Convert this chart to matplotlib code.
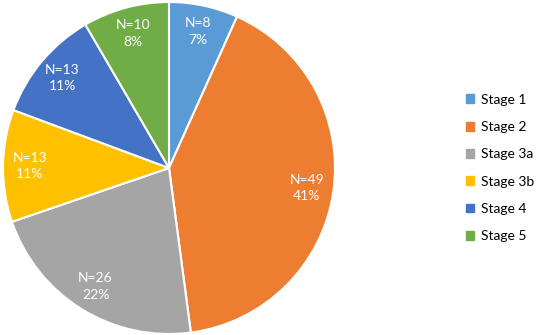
import matplotlib
matplotlib.use('Agg')
import matplotlib.pyplot as plt
from matplotlib.patches import Patch

plt.rcParams['font.family'] = ['Lato', 'DejaVu Sans']

stages = ['Stage 1', 'Stage 2', 'Stage 3a', 'Stage 3b', 'Stage 4', 'Stage 5']
counts = [8, 49, 26, 13, 13, 10]
percents = [7, 41, 22, 11, 11, 8]
colors = ['#5B9BD5', '#ED7D31', '#A5A5A5', '#FFC000', '#4472C4', '#70AD47']

fig = plt.figure(figsize=(5.36, 3.35), dpi=100)
ax = fig.add_axes([3 / 536, 1 / 335, 332 / 536, 332 / 335])

labels = ['N=%d\n%d%%' % (n, p) for n, p in zip(counts, percents)]
wedges, texts = ax.pie(counts, colors=colors, startangle=90, counterclock=False,
                       labels=labels, labeldistance=0.84,
                       wedgeprops=dict(edgecolor='white', linewidth=1.5),
                       textprops=dict(color='white', fontsize=10, ha='center',
                                      va='center', linespacing=1.45))
for t in texts:
    t.set_horizontalalignment('center')
ax.set_xlim(-1.0, 1.0)
ax.set_ylim(-1.0, 1.0)
ax.set_aspect('equal')

handles = [Patch(facecolor=c, edgecolor=c) for c in colors]
fig.legend(handles, stages, loc='center left', bbox_to_anchor=(466 / 536, 167 / 335),
           frameon=False, fontsize=10, handlelength=0.6, handleheight=0.6,
           handletextpad=0.5, labelspacing=1.1, borderpad=0, borderaxespad=0)

fig.savefig('out.png', dpi=100)
